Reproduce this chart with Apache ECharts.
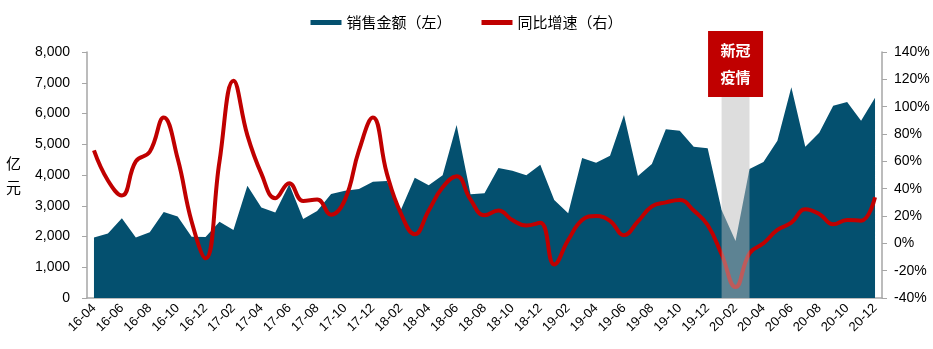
<!DOCTYPE html>
<html>
<head>
<meta charset="utf-8">
<script src="https://cdn.jsdelivr.net/npm/echarts@6/dist/echarts.min.js"></script>
<style>
  html, body { margin: 0; padding: 0; background: #fff; }
  #chart { width: 933px; height: 349px; }
</style>
</head>
<body>
<div id="chart"></div>
<script>
// Monthly categories, 2016-04 through 2020-12
const months = [
  '16-04','16-05','16-06','16-07','16-08','16-09','16-10','16-11','16-12',
  '17-01','17-02','17-03','17-04','17-05','17-06','17-07','17-08','17-09','17-10','17-11','17-12',
  '18-01','18-02','18-03','18-04','18-05','18-06','18-07','18-08','18-09','18-10','18-11','18-12',
  '19-01','19-02','19-03','19-04','19-05','19-06','19-07','19-08','19-09','19-10','19-11','19-12',
  '20-01','20-02','20-03','20-04','20-05','20-06','20-07','20-08','20-09','20-10','20-11','20-12'
];

// Monthly sales amount, 亿元 (left axis)
const salesAmount = [
  1970, 2100, 2590, 1970, 2140, 2800, 2650, 1990, 1980,
  2480, 2210, 3650, 2940, 2780, 3700, 2570, 2830, 3380, 3490, 3545, 3783,
  3805, 2862, 3913, 3664, 3990, 5626, 3371, 3404, 4228, 4141, 3990, 4336,
  3187, 2753, 4553, 4401, 4625, 5951, 3967, 4358, 5485, 5441, 4921, 4867,
  2862, 1854, 4195, 4423, 5116, 6851, 4921, 5377, 6255, 6374, 5767, 6515
];

// Year-on-year growth, % (right axis)
const yoyGrowth = [
  68, 46, 35, 60, 67, 92, 62, 16, -11,
  60, 119, 79, 51, 33, 44, 31, 32, 21, 32, 68, 92,
  51, 22, 6.6, 24, 41, 49, 32, 20.5, 24, 17, 13, 15,
  -15.5, 2.4, 17, 20, 16.5, 6, 16, 27, 30, 31.7, 24, 13.4,
  -8, -32, -7.3, 0, 9.8, 15.1, 24.9, 21.5, 13.9, 17.1, 16.6, 33.7
];

// Months shaded as the outbreak period, and the tag shown above it
const outbreakSpan = ['20-01', '20-03'];
const outbreakMonth = '20-02';
const outbreakTag = '新冠\n疫情';

const leftTicks = { min: 0, max: 8000, interval: 1000 };
const rightTicks = { min: -40, max: 140, interval: 20 };

const axisGray = '#a6a6a6';
const labelFont = { color: '#000', fontSize: 13, fontFamily: 'Liberation Sans, Arial, sans-serif' };
const valueFont = { color: '#000', fontSize: 14, fontFamily: 'Liberation Sans, Arial, sans-serif' };

const chart = echarts.init(document.getElementById('chart'));
chart.setOption({
  animation: false,
  textStyle: { fontFamily: 'Liberation Sans, "Noto Sans CJK SC", sans-serif' },
  legend: {
    top: 10,
    left: 'center',
    icon: 'rect',
    itemWidth: 31,
    itemHeight: 5,
    itemGap: 30,
    data: ['销售金额（左）', '同比增速（右）'],
    textStyle: { fontSize: 15, color: '#000', fontFamily: '"Noto Sans CJK SC", sans-serif' }
  },
  grid: { left: 87, right: 51, top: 52, bottom: 51, containLabel: false },
  xAxis: {
    type: 'category',
    data: months,
    boundaryGap: true,
    axisLine: { lineStyle: { color: axisGray, width: 1.5 } },
    axisTick: { lineStyle: { color: axisGray }, length: 5 },
    axisLabel: Object.assign({ interval: 1, rotate: 45, margin: 8 }, labelFont),
    splitLine: { show: false }
  },
  yAxis: [
    {
      type: 'value',
      min: leftTicks.min, max: leftTicks.max, interval: leftTicks.interval,
      name: '亿\n元',
      nameLocation: 'middle',
      nameRotate: 0,
      nameGap: 66,
      nameTextStyle: { fontSize: 15, color: '#000', lineHeight: 24, fontFamily: '"Noto Sans CJK SC", sans-serif' },
      axisLine: { show: true, lineStyle: { color: axisGray, width: 1.5 } },
      axisTick: { show: true, length: 5, lineStyle: { color: axisGray } },
      axisLabel: Object.assign({
        margin: 17,
        formatter: v => v.toLocaleString('en-US')
      }, valueFont),
      splitLine: { show: false }
    },
    {
      type: 'value',
      min: rightTicks.min, max: rightTicks.max, interval: rightTicks.interval,
      axisLine: { show: true, lineStyle: { color: axisGray, width: 1.5 } },
      axisTick: { show: true, length: 5, lineStyle: { color: axisGray } },
      axisLabel: Object.assign({ margin: 12, formatter: '{value}%' }, valueFont),
      splitLine: { show: false }
    }
  ],
  series: [
    {
      name: '销售金额（左）',
      type: 'line',
      data: salesAmount,
      yAxisIndex: 0,
      symbol: 'none',
      color: '#04506f',
      lineStyle: { width: 0 },
      areaStyle: { color: '#04506f', opacity: 1 },
      z: 2
    },
    {
      name: '同比增速（右）',
      type: 'line',
      data: yoyGrowth,
      yAxisIndex: 1,
      symbol: 'none',
      smooth: 0.45,
      color: '#c00000',
      lineStyle: { width: 4, color: '#c00000' },
      z: 3
    },
    {
      // translucent band over the outbreak months, plus its tag
      name: 'outbreak',
      type: 'line',
      data: [],
      yAxisIndex: 0,
      z: 5,
      markArea: {
        z: 6,
        silent: true,
        itemStyle: { color: 'rgba(185,185,185,0.49)' },
        data: [[{ xAxis: outbreakSpan[0] }, { xAxis: outbreakSpan[1] }]]
      },
      markPoint: {
        z: 7,
        silent: true,
        symbol: 'rect',
        symbolSize: [55, 66],
        itemStyle: { color: '#c00000' },
        label: {
          show: true,
          position: 'inside',
          formatter: outbreakTag,
          color: '#fff',
          fontSize: 15,
          fontWeight: 'bold',
          lineHeight: 27,
          fontFamily: '"Noto Sans CJK SC", sans-serif'
        },
        data: [{ coord: [outbreakMonth, 7610] }]
      }
    }
  ]
});
</script>
</body>
</html>
